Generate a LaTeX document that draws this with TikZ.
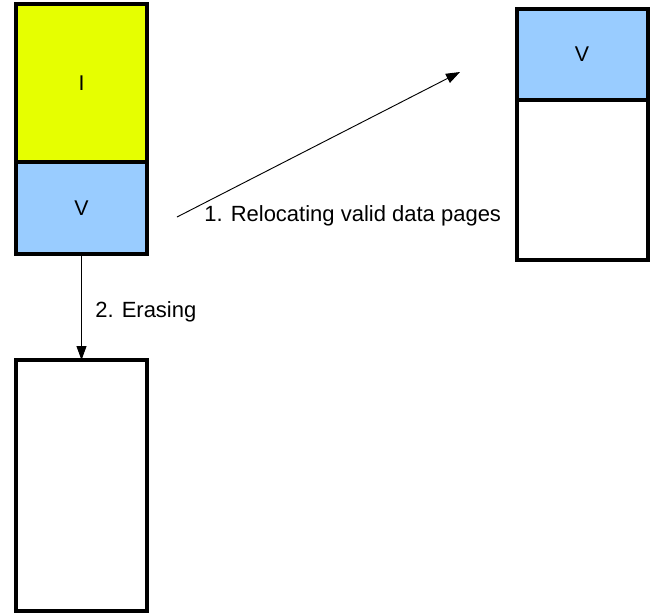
\documentclass[tikz,border=0pt]{standalone}
\usepackage{fontspec}
\setmainfont{Liberation Sans}
\usetikzlibrary{positioning,arrows.meta}

\begin{document}
\begin{tikzpicture}[x=0.75pt,y=-0.75pt,
		cell/.style={rectangle,draw,line width=3pt,outer sep=0pt,
			minimum width=98.25pt,inner sep=0pt,font=\fontsize{16}{19}\selectfont},
		invalidcell/.style={cell,fill=yellowI},
		validcell/.style={cell,fill=blueV},
		freecell/.style={cell,fill=white},
		steplabel/.style={font=\fontsize{16.5}{20}\selectfont,inner sep=0pt,anchor=west},
		moveline/.style={line width=0.7pt,-{Triangle[length=10.5pt,width=7.5pt]}}
		]
		\definecolor{yellowI}{HTML}{E6FF00}
		\definecolor{blueV}{HTML}{99CCFF}
		\useasboundingbox (0,0) rectangle (663,615);

		% old block
		\node[invalidcell, minimum height=118.5pt](oldI) at (81.5,83){I};
		\node[validcell, minimum height=69pt, below=0pt of oldI](oldV){V};

		% new block
		\node[validcell, minimum height=68.25pt](newV) at (582,54.5){V};
		\node[freecell, minimum height=120pt, below=0pt of newV](newFree){};

		% erased block
		\node[freecell, minimum height=188.25pt](erased) at (81.5,485.5){};

		% step 1
		\coordinate (relStart) at (177,217);
		\coordinate (relEnd) at (460,72);
		\draw[moveline] (relStart) -- (relEnd);
		\node[steplabel](reloc) at (204,216){1. Relocating valid data pages};

		% step 2
		\draw[moveline] (oldV.south) -- (erased.north);
		\node[steplabel](erase) at (95,312){2. Erasing};
	\end{tikzpicture}
\end{document}
